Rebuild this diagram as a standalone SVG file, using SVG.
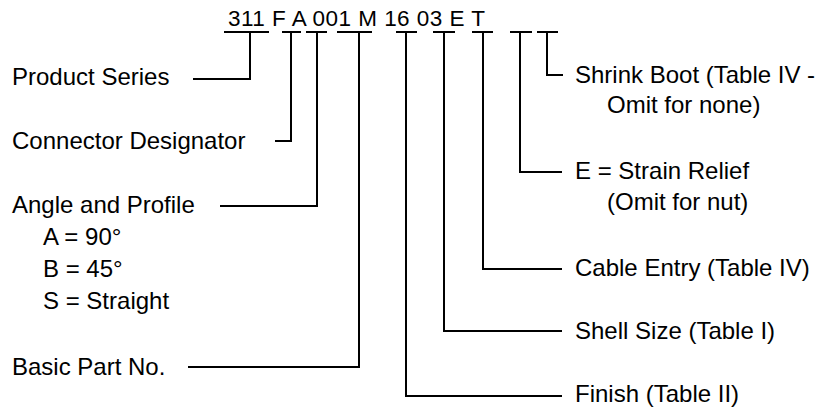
<svg xmlns="http://www.w3.org/2000/svg" width="827" height="409" viewBox="0 0 827 409">
<style>
text{font-family:"Liberation Sans",Arial,sans-serif;fill:#000}
.lbl{font-size:24px}
.code{font-size:22.5px}
.c{fill:none;stroke:#000;stroke-width:2;stroke-linecap:butt;stroke-linejoin:miter}
</style>
<rect width="827" height="409" fill="#fff"/>
<g id="code"><text class="code" x="228" y="26" textLength="257" lengthAdjust="spacing">311 F A 001 M 16 03 E T</text></g>
<g id="connectors">
<path class="c" d="M224 32H269M282 32H301M306 32H327M337 32H372M396 32H417M433 32H455M472 32H493M510 32H532M537 32H558"/>
<polyline class="c" points="250,32 250,79 193,79"/>
<polyline class="c" points="291,32 291,141 275,141"/>
<polyline class="c" points="317,32 317,206 220,206"/>
<polyline class="c" points="359,32 359,367 188,367"/>
<polyline class="c" points="406,32 406,396 562,396"/>
<polyline class="c" points="444,32 444,331 562,331"/>
<polyline class="c" points="483,32 483,269 562,269"/>
<polyline class="c" points="520,32 520,172 562,172"/>
<polyline class="c" points="547,32 547,75 563,75"/>
</g>
<g id="product-series"><text class="lbl" x="12" y="85">Product Series</text></g>
<g id="connector-designator"><text class="lbl" x="12" y="149">Connector Designator</text></g>
<g id="angle-profile"><text class="lbl" x="12" y="213">Angle and Profile</text>
<text class="lbl" x="43" y="245">A = 90°</text>
<text class="lbl" x="43" y="277">B = 45°</text>
<text class="lbl" x="43" y="309">S = Straight</text></g>
<g id="basic-part"><text class="lbl" x="12" y="375">Basic Part No.</text></g>
<g id="shrink-boot"><text class="lbl" x="575" y="83">Shrink Boot (Table IV -</text>
<text class="lbl" x="607" y="113">Omit for none)</text></g>
<g id="strain-relief"><text class="lbl" x="575" y="179">E = Strain Relief</text>
<text class="lbl" x="607" y="210">(Omit for nut)</text></g>
<g id="cable-entry"><text class="lbl" x="575" y="276">Cable Entry (Table IV)</text></g>
<g id="shell-size"><text class="lbl" x="575" y="339">Shell Size (Table I)</text></g>
<g id="finish"><text class="lbl" x="575" y="402">Finish (Table II)</text></g>
</svg>
